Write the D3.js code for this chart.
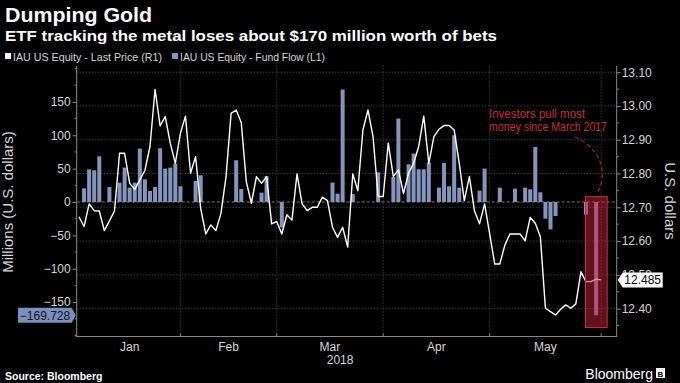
<!DOCTYPE html>
<html><head><meta charset="utf-8">
<script src="https://cdn.jsdelivr.net/npm/d3@7"></script>
<style>
html,body{margin:0;padding:0;background:#000;}
svg{display:block;}
text{font-family:"Liberation Sans",Arial,sans-serif;}
</style></head><body>
<svg id="c" width="680" height="383"></svg>
<script>
// ---------------- DATA ----------------
const dates = [
"2018-01-03","2018-01-04","2018-01-05","2018-01-08","2018-01-09","2018-01-10","2018-01-11","2018-01-12","2018-01-16","2018-01-17",
"2018-01-18","2018-01-19","2018-01-22","2018-01-23","2018-01-24","2018-01-25","2018-01-26","2018-01-29","2018-01-30","2018-01-31",
"2018-02-01","2018-02-02","2018-02-05","2018-02-06","2018-02-07","2018-02-08","2018-02-09","2018-02-12","2018-02-13","2018-02-14",
"2018-02-15","2018-02-16","2018-02-20","2018-02-21","2018-02-22","2018-02-23","2018-02-26","2018-02-27","2018-02-28",
"2018-03-01","2018-03-02","2018-03-05","2018-03-06","2018-03-07","2018-03-08","2018-03-09","2018-03-12","2018-03-13","2018-03-14",
"2018-03-15","2018-03-16","2018-03-19","2018-03-20","2018-03-21","2018-03-22","2018-03-23","2018-03-26","2018-03-27","2018-03-28","2018-03-29",
"2018-04-02","2018-04-03","2018-04-04","2018-04-05","2018-04-06","2018-04-09","2018-04-10","2018-04-11","2018-04-12","2018-04-13",
"2018-04-16","2018-04-17","2018-04-18","2018-04-19","2018-04-20","2018-04-23","2018-04-24","2018-04-25","2018-04-26","2018-04-27","2018-04-30",
"2018-05-01","2018-05-02","2018-05-03","2018-05-04","2018-05-07","2018-05-08","2018-05-09","2018-05-10","2018-05-11","2018-05-14",
"2018-05-15","2018-05-16","2018-05-17","2018-05-18","2018-05-21","2018-05-22","2018-05-23","2018-05-24","2018-05-25","2018-05-29","2018-05-30","2018-05-31",
"2018-06-01"];

// IAU last price (R1), U.S. dollars
const price = [
12.672,12.643,12.710,12.690,12.689,12.631,12.660,12.689,12.860,12.860,
12.771,12.753,12.781,12.809,12.880,13.049,12.941,12.969,12.890,12.830,
12.919,12.970,12.801,12.850,12.697,12.621,12.648,12.631,12.682,12.791,
12.978,12.988,12.951,12.776,12.712,12.791,12.771,12.791,12.651,
12.658,12.621,12.678,12.662,12.799,12.710,12.690,12.700,12.700,12.730,
12.720,12.641,12.611,12.641,12.582,12.799,12.749,12.929,12.988,12.909,12.732,
12.732,12.890,12.791,12.811,12.741,12.801,12.830,12.880,12.970,12.830,
12.909,12.931,12.942,12.942,12.929,12.830,12.720,12.791,12.690,12.651,12.710,
12.621,12.532,12.532,12.588,12.621,12.621,12.621,12.601,12.670,12.653,
12.613,12.401,12.391,12.381,12.398,12.411,12.401,12.414,12.509,12.480,12.480,12.487,
12.485];

// IAU fund flow (L1), millions of U.S. dollars (0 = no flow)
const flow = [
0,20.5,49,47.5,68.5,0,22.5,0,29,51.5,
21.5,29,80,34,16.5,22.5,80.5,50,51.5,57.5,
23.5,0,0,31.5,40,0,0,0,0,0,
0,62.5,19.5,0,0,0,14,38.5,0,
0,-38,0,0,0,0,0,0,0,0,
0,29,12.5,168.5,0,12,0,0,0,0,44.5,
0,0,37.5,125,0,56.5,72.5,49,49,59,
0,21.5,58.5,23.5,100,21.5,0,0,0,17,50,
0,0,21.5,0,0,20,0,21.5,19,82.5,
14.5,-25,-41,-21,0,0,0,0,0,-19,0,-169.728,
0];

const leftTicks = [-150,-100,-50,0,50,100,150];
const rightTicks = [12.40,12.50,12.60,12.70,12.80,12.90,13.00,13.10];
const monthNames = ["Jan","Feb","Mar","Apr","May"];
const yearLabel = "2018";
const highlight = {from:"2018-05-29", to:"2018-06-01", top:8, bottom:-188};
const annotation = ["Investors pull most","money since March 2017"];

// ---------------- CHART ----------------
const W=680,H=383;
const L=76.7,R=616.7,T=68.5,B=335.5;
const axisCol="#8a8a8a", gridCol="#555", textCol="#d6d6d6";
const barCol="#8494bc", red="#c42c42";

const svg=d3.select("#c");
svg.append("rect").attr("width",W).attr("height",H).attr("fill","#000");

const x=d3.scalePoint().domain(dates).range([79,601.2]);
const yL=d3.scaleLinear().domain([-200,200]).range([B,T]);
const yR=d3.scaleLinear().domain([12.3204,13.111]).range([B,T]);

const monthStarts = dates.filter((d,i)=>i>0 && d.slice(5,7)!==dates[i-1].slice(5,7));
const bounds = [dates[0], ...monthStarts];

// grid
const g=svg.append("g");
g.selectAll("line.h").data(rightTicks).join("line")
  .attr("x1",L).attr("x2",R).attr("y1",d=>yR(d)).attr("y2",d=>yR(d))
  .attr("stroke",gridCol).attr("stroke-width",1).attr("stroke-dasharray","1,2");
g.selectAll("line.v").data(monthStarts).join("line")
  .attr("x1",d=>x(d)).attr("x2",d=>x(d)).attr("y1",T-3).attr("y2",B)
  .attr("stroke",gridCol).attr("stroke-width",1).attr("stroke-dasharray","1,2");

// zero line
svg.append("line").attr("x1",L).attr("x2",R).attr("y1",yL(0)).attr("y2",yL(0))
  .attr("stroke","#9a9a9a").attr("stroke-width",0.8).attr("stroke-dasharray","3,2");

// bars
const data = dates.map((d,i)=>({d, p:price[i], f:flow[i]}));
svg.append("g").selectAll("rect").data(data.filter(e=>e.f!==0)).join("rect")
  .attr("x",e=>x(e.d)-2).attr("width",4)
  .attr("y",e=>Math.min(yL(e.f),yL(0))).attr("height",e=>Math.abs(yL(e.f)-yL(0)))
  .attr("fill",barCol);

// line
svg.append("path").datum(data)
  .attr("d",d3.line().x(e=>x(e.d)).y(e=>yR(e.p)))
  .attr("fill","none").attr("stroke","#fff").attr("stroke-width",1.4).attr("stroke-linejoin","round");

// highlight box
const hx0=x(highlight.from)-0.5, hx1=x(highlight.to)+6;
svg.append("rect").attr("x",hx0).attr("y",yL(highlight.top)).attr("width",hx1-hx0)
  .attr("height",yL(highlight.bottom)-yL(highlight.top))
  .attr("fill","rgba(200,30,55,0.5)").attr("stroke",red).attr("stroke-width",1);

// dashed arc + annotation
svg.append("path")
  .attr("d",`M575,137 C598,147 610,170 597,${yL(highlight.top)-3}`)
  .attr("fill","none").attr("stroke",red).attr("stroke-width",1).attr("stroke-dasharray","4,3");
svg.append("g").selectAll("text").data(annotation).join("text")
  .attr("x",489).attr("y",(d,i)=>118+i*12.8).attr("fill",red).attr("font-size",12.5)
  .attr("textLength",(d,i)=>i===0?96:118).attr("lengthAdjust","spacingAndGlyphs")
  .text(d=>d);

// axes lines
svg.append("line").attr("x1",L).attr("x2",L).attr("y1",66).attr("y2",337).attr("stroke",axisCol);
svg.append("line").attr("x1",R).attr("x2",R).attr("y1",66).attr("y2",337).attr("stroke",axisCol);
svg.append("line").attr("x1",L-1).attr("x2",R).attr("y1",B+1).attr("y2",B+1).attr("stroke",axisCol);

// left axis
const la=svg.append("g").attr("transform",`translate(${L},0)`)
  .call(d3.axisLeft(yL).tickValues(leftTicks).tickSize(4).tickPadding(2).tickFormat(d3.format("d")));
la.select(".domain").remove();
la.selectAll("line").attr("stroke",axisCol);
la.selectAll("text").attr("fill",textCol).attr("font-size",12).attr("font-family","Liberation Sans, Arial, sans-serif");
const lminor=d3.range(-200,201,25).filter(v=>!leftTicks.includes(v));
svg.append("g").selectAll("line").data(lminor).join("line")
  .attr("x1",L-2).attr("x2",L).attr("y1",d=>yL(d)).attr("y2",d=>yL(d)).attr("stroke",axisCol);

// right axis
const ra=svg.append("g").attr("transform",`translate(${R},0)`)
  .call(d3.axisRight(yR).tickValues(rightTicks).tickSize(4).tickPadding(1).tickFormat(d3.format(".2f")));
ra.select(".domain").remove();
ra.selectAll("line").attr("stroke",axisCol);
ra.selectAll("text").attr("fill",textCol).attr("font-size",12).attr("font-family","Liberation Sans, Arial, sans-serif");
const rminor=rightTicks.map(v=>v-0.05).filter(v=>v>12.3204&&v<13.111);
svg.append("g").selectAll("line").data(rminor).join("line")
  .attr("x1",R).attr("x2",R+2).attr("y1",d=>yR(d)).attr("y2",d=>yR(d)).attr("stroke",axisCol);

// bottom ticks + labels
svg.append("g").selectAll("line").data(monthStarts).join("line")
  .attr("x1",d=>x(d)).attr("x2",d=>x(d)).attr("y1",B+1).attr("y2",B-2).attr("stroke",axisCol);
svg.append("g").selectAll("text").data(monthNames).join("text")
  .attr("x",(d,i)=>(x(bounds[i])+x(bounds[i+1]))/2).attr("y",351)
  .attr("text-anchor","middle").attr("fill",textCol).attr("font-size",12).text(d=>d);
svg.append("text").attr("x",(x(bounds[0])+x(bounds[5]))/2).attr("y",364)
  .attr("text-anchor","middle").attr("fill",textCol).attr("font-size",12).text(yearLabel);

// axis titles
svg.append("text").attr("transform","translate(13,202) rotate(-90)").attr("text-anchor","middle")
  .attr("fill",textCol).attr("font-size",15).text("Millions (U.S. dollars)");
svg.append("text").attr("transform","translate(665,201) rotate(90)").attr("text-anchor","middle")
  .attr("fill",textCol).attr("font-size",15).text("U.S. dollars");

// last price callout
const lp=price[price.length-1], lpy=yR(lp);
svg.append("path").attr("d",`M${R+1},${lpy} L${R+6},${lpy-7.5} L${R+46},${lpy-7.5} L${R+46},${lpy+7.5} L${R+6},${lpy+7.5} Z`)
  .attr("fill","#fff");
svg.append("text").attr("x",R+26).attr("y",lpy).attr("dy","0.36em").attr("text-anchor","middle")
  .attr("fill","#000").attr("font-size",12).text(d3.format(".3f")(lp));

// min flow callout
const mf=d3.min(flow), mfy=yL(mf);
svg.append("path").attr("d",`M${L-1},${mfy} L${L-5},${mfy-7.5} L18,${mfy-7.5} L18,${mfy+7.5} L${L-5},${mfy+7.5} Z`)
  .attr("fill","#7d8fbd");
svg.append("text").attr("x",45).attr("y",mfy).attr("dy","0.36em").attr("text-anchor","middle")
  .attr("fill","#0c1426").attr("font-size",12).text(d3.format(".3f")(mf));

// titles
svg.append("text").attr("x",5).attr("y",22).attr("fill","#fff").attr("font-size",21).attr("font-weight","bold")
  .attr("textLength",147).attr("lengthAdjust","spacingAndGlyphs").text("Dumping Gold");
svg.append("text").attr("x",5).attr("y",41).attr("fill","#fff").attr("font-size",15.5).attr("font-weight","bold")
  .attr("textLength",492).attr("lengthAdjust","spacingAndGlyphs").text("ETF tracking the metal loses about $170 million worth of bets");

// legend
const legend=[{c:"#fff",t:"IAU US Equity - Last Price (R1)",x:5,w:149},{c:barCol,t:"IAU US Equity - Fund Flow (L1)",x:172,w:145}];
const lg=svg.append("g").selectAll("g").data(legend).join("g");
lg.append("rect").attr("x",d=>d.x).attr("y",53).attr("width",6).attr("height",6).attr("fill",d=>d.c);
lg.append("text").attr("x",d=>d.x+8).attr("y",60.5).attr("fill",textCol).attr("font-size",11)
  .attr("textLength",d=>d.w).attr("lengthAdjust","spacingAndGlyphs").text(d=>d.t);

// source + logo
svg.append("text").attr("x",5).attr("y",380).attr("fill","#fff").attr("font-size",10.5).attr("font-weight","bold")
  .text("Source: Bloomberg");
svg.append("text").attr("x",653).attr("y",379).attr("text-anchor","end").attr("fill","#fff").attr("font-size",14)
  .text("Bloomberg");
svg.append("rect").attr("x",656).attr("y",368).attr("width",9).attr("height",10).attr("fill","#fff");
svg.append("text").attr("x",660.5).attr("y",376.5).attr("text-anchor","middle").attr("fill","#000").attr("font-size",8).attr("font-weight","bold").text("B");
</script>
</body></html>
